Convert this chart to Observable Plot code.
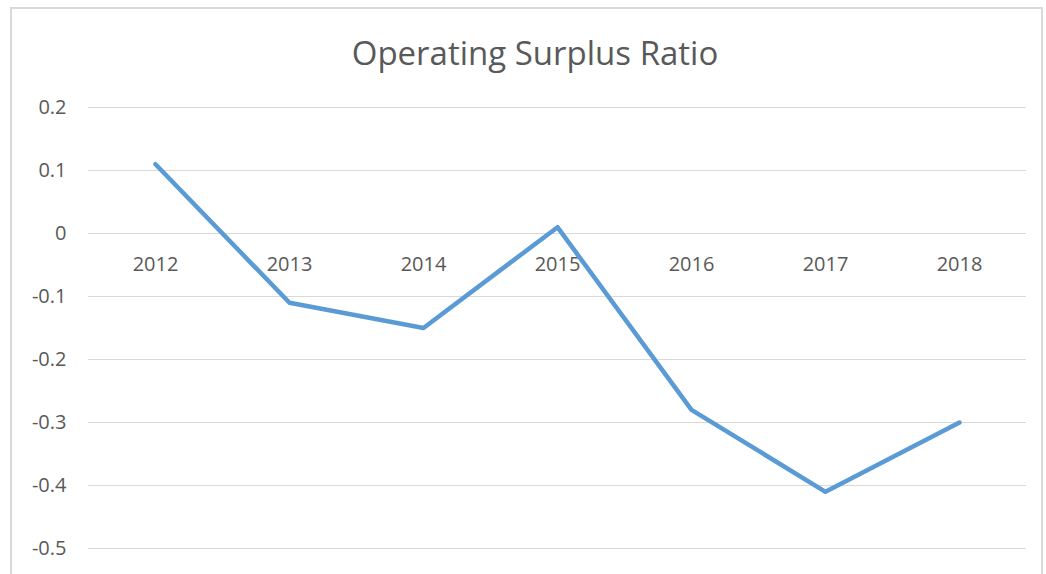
<!DOCTYPE html>
<html>
<head>
<meta charset="utf-8">
<script src="https://cdn.jsdelivr.net/npm/d3@7"></script>
<script src="https://cdn.jsdelivr.net/npm/@observablehq/plot@0.6"></script>
<style>
  html, body { margin: 0; padding: 0; background: #fff; }
  #wrap { position: relative; width: 1046px; height: 574px; overflow: hidden; font-family: "Open Sans", sans-serif; }
  #frame { position: absolute; left: 10px; top: 7px; width: 1033px; height: 600px; border: 2px solid #d9d9d9; box-sizing: border-box; }
  #title { position: absolute; left: 0; width: 1070px; top: 31px; text-align: center; font-size: 33px; color: #595959; line-height: 44px; }
  #chart { position: absolute; left: 0; top: 0; }
</style>
</head>
<body>
<div id="wrap">
  <div id="frame"></div>
  <div id="chart"></div>
  <div id="title">Operating Surplus Ratio</div>
</div>
<script>
const years = ["2012", "2013", "2014", "2015", "2016", "2017", "2018"];
const ratios = [0.11, -0.11, -0.15, 0.01, -0.28, -0.41, -0.30];
const yTicks = [0.2, 0.1, 0, -0.1, -0.2, -0.3, -0.4, -0.5];

const data = years.map((year, i) => ({year, ratio: ratios[i]}));

const chart = Plot.plot({
  width: 1046,
  height: 574,
  marginLeft: 88,
  marginRight: 20,
  marginTop: 107,
  marginBottom: 26,
  style: {background: "transparent", fontFamily: "Open Sans, sans-serif", fontSize: "20px", color: "#595959"},
  x: {type: "point", domain: years, padding: 0.5, axis: null},
  y: {domain: [-0.5, 0.2], axis: null},
  marks: [
    Plot.ruleY(yTicks, {stroke: "#d9d9d9", strokeWidth: 1}),
    Plot.axisY(yTicks, {label: null, tickSize: 0, tickPadding: 22, fontSize: 20, fill: "#595959", tickFormat: d => String(d)}),
    Plot.text(years, {x: d => d, y: () => 0, dy: 31, fontSize: 20, fill: "#595959"}),
    Plot.line(data, {x: "year", y: "ratio", stroke: "#5b9bd5", strokeWidth: 4.5, strokeLinecap: "round", strokeLinejoin: "round"})
  ]
});
document.getElementById("chart").appendChild(chart);
</script>
</body>
</html>
